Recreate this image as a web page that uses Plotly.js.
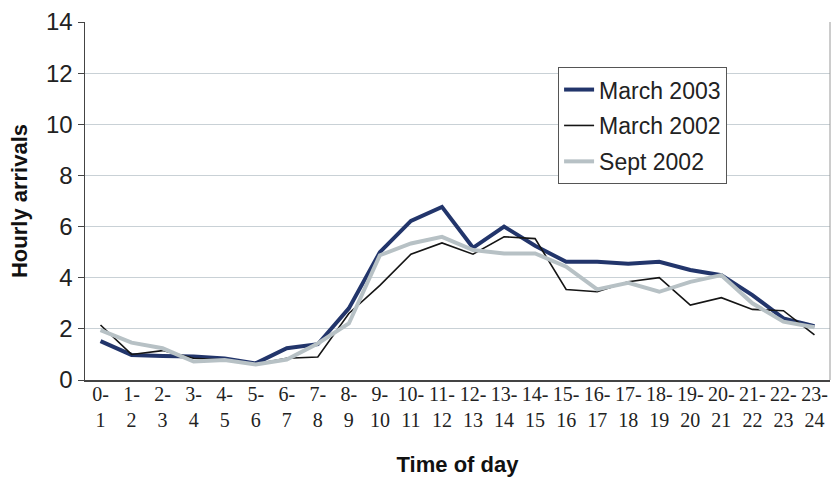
<!DOCTYPE html>
<html>
<head>
<meta charset="utf-8">
<script src="https://cdn.plot.ly/plotly-3.0.1.min.js"></script>
<style>html,body{margin:0;padding:0;background:#fff;}#chart{width:831px;height:477px;}</style>
</head>
<body>
<div id="chart"></div>
<script>
var hours = ["0-<br>1","1-<br>2","2-<br>3","3-<br>4","4-<br>5","5-<br>6","6-<br>7","7-<br>8","8-<br>9","9-<br>10","10-<br>11","11-<br>12","12-<br>13","13-<br>14","14-<br>15","15-<br>16","16-<br>17","17-<br>18","18-<br>19","19-<br>20","20-<br>21","21-<br>22","22-<br>23","23-<br>24"];
var march2003 = [1.52,0.98,0.94,0.92,0.84,0.65,1.24,1.4,2.8,5.0,6.22,6.77,5.17,6.0,5.25,4.62,4.62,4.55,4.62,4.3,4.1,3.32,2.41,2.1];
var march2002 = [2.15,1.0,1.15,0.85,0.78,0.62,0.85,0.9,2.6,3.7,4.92,5.36,4.92,5.6,5.53,3.54,3.45,3.84,4.0,2.93,3.22,2.76,2.71,1.76];
var sept2002  = [1.95,1.46,1.24,0.72,0.78,0.61,0.8,1.43,2.21,4.88,5.34,5.6,5.08,4.95,4.95,4.43,3.54,3.8,3.45,3.84,4.1,3.0,2.28,2.06];
var seriesNames = ["March 2003","March 2002","Sept 2002"];

var traces = [
  {x: hours, y: march2003, name: seriesNames[0], type: "scatter", mode: "lines", legendgroup: "a",
   line: {color: "#22356b", width: 4}},
  {x: hours, y: march2002, name: seriesNames[1], type: "scatter", mode: "lines", legendgroup: "b",
   line: {color: "#151515", width: 1.6}},
  {x: hours, y: sept2002, name: seriesNames[2], type: "scatter", mode: "lines", legendgroup: "c",
   line: {color: "#b7c1c5", width: 4}}
];

var layout = {
  width: 831, height: 477,
  margin: {l: 85, r: 1, t: 22, b: 97},
  paper_bgcolor: "#fff", plot_bgcolor: "#fff",
  showlegend: true,
  legend: {x: 0.635, y: 0.874, xanchor: "left", yanchor: "top",
    bordercolor: "#555", borderwidth: 1, bgcolor: "#fff",
    font: {family: "Liberation Sans, Arial, sans-serif", size: 23, color: "#222"},
    traceorder: "grouped", tracegroupgap: 3},
  xaxis: {
    type: "category", range: [-0.5, 23.5],
    showgrid: false, zeroline: false,
    showline: true, linecolor: "#444", linewidth: 1.5,
    ticks: "", tickangle: 0, ticklabelstandoff: -5,
    tickfont: {family: "Liberation Serif, Times New Roman, serif", size: 20, color: "#222"},
    title: {text: "<b>Time of day</b>", standoff: 29,
      font: {family: "Liberation Sans, Arial, sans-serif", size: 22, color: "#111"}}
  },
  yaxis: {
    range: [0, 14], dtick: 2, tick0: 0,
    showgrid: true, gridcolor: "#c9d1d6", gridwidth: 1.2,
    zeroline: false,
    showline: true, linecolor: "#444", linewidth: 1.5,
    ticks: "outside", ticklen: 6, tickcolor: "#444",
    tickfont: {family: "Liberation Sans, Arial, sans-serif", size: 24, color: "#222"},
    title: {text: "<b>Hourly arrivals</b>", standoff: 12,
      font: {family: "Liberation Sans, Arial, sans-serif", size: 22, color: "#111"}}
  },
  shapes: [
    {type: "line", xref: "paper", yref: "paper", x0: 1, x1: 1, y0: 0, y1: 1,
     line: {color: "#999", width: 1}}
  ]
};

Plotly.newPlot("chart", traces, layout, {displayModeBar: false, staticPlot: true});
</script>
</body>
</html>
